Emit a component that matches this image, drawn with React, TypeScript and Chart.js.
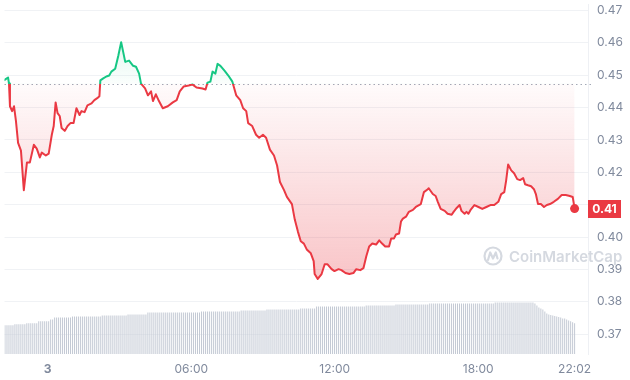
import React, { useEffect, useRef } from 'react';
import { Chart, registerables } from 'chart.js';

Chart.register(...registerables);

// ---- data (hours relative to midnight of day "3") ----
const PRICE_TIMES = [
  -1.83, -1.66, -1.62, -1.58, -1.49, -1.41, -1.33, -1.24, -1.12, -1.00,
  -0.87, -0.75, -0.58, -0.46, -0.33, -0.25, -0.08, 0.04, 0.17, 0.25,
  0.33, 0.41, 0.50, 0.58, 0.71, 0.83, 0.95, 1.08, 1.20, 1.33,
  1.41, 1.54, 1.66, 1.83, 1.95, 2.07, 2.16, 2.20, 2.32, 2.45,
  2.57, 2.66, 2.82, 2.95, 3.07, 3.24, 3.40, 3.57, 3.69, 3.82,
  3.90, 4.07, 4.19, 4.32, 4.40, 4.52, 4.65, 4.81, 5.02, 5.23,
  5.39, 5.52, 5.68, 5.89, 6.06, 6.22, 6.47, 6.60, 6.68, 6.80,
  6.89, 7.01, 7.10, 7.22, 7.39, 7.55, 7.72, 7.88, 8.05, 8.17,
  8.30, 8.38, 8.55, 8.71, 8.84, 9.00, 9.13, 9.29, 9.46, 9.59,
  9.71, 9.88, 10.00, 10.21, 10.33, 10.46, 10.58, 10.71, 10.83, 11.00,
  11.12, 11.16, 11.29, 11.45, 11.58, 11.70, 11.87, 11.99, 12.16, 12.28,
  12.45, 12.61, 12.78, 12.90, 13.07, 13.20, 13.32, 13.44, 13.57, 13.73,
  13.86, 13.98, 14.11, 14.27, 14.36, 14.48, 14.56, 14.69, 14.77, 14.85,
  14.98, 15.10, 15.27, 15.39, 15.60, 15.73, 15.89, 15.93, 16.10, 16.22,
  16.31, 16.43, 16.60, 16.72, 16.89, 16.97, 17.10, 17.22, 17.30, 17.43,
  17.51, 17.59, 17.68, 17.84, 18.01, 18.17, 18.34, 18.51, 18.67, 18.84,
  18.96, 19.09, 19.17, 19.25, 19.38, 19.50, 19.63, 19.75, 19.88, 19.96,
  20.08, 20.21, 20.33, 20.41, 20.50, 20.62, 20.75, 20.87, 21.00, 21.16,
  21.33, 21.49, 21.66, 21.83, 21.95, 22.03,
];

const PRICES = [
  0.4484, 0.4493, 0.4474, 0.4404, 0.4389, 0.4404, 0.4359, 0.4291, 0.4267, 0.4145,
  0.4230, 0.4230, 0.4285, 0.4273, 0.4246, 0.4261, 0.4252, 0.4258, 0.4316, 0.4343,
  0.4416, 0.4383, 0.4374, 0.4337, 0.4328, 0.4343, 0.4352, 0.4352, 0.4398, 0.4377,
  0.4389, 0.4386, 0.4407, 0.4413, 0.4423, 0.4429, 0.4435, 0.4484, 0.4490, 0.4496,
  0.4499, 0.4511, 0.4520, 0.4560, 0.4602, 0.4541, 0.4545, 0.4529, 0.4526, 0.4505,
  0.4474, 0.4459, 0.4438, 0.4450, 0.4420, 0.4441, 0.4420, 0.4398, 0.4404, 0.4416,
  0.4423, 0.4450, 0.4465, 0.4468, 0.4471, 0.4462, 0.4459, 0.4456, 0.4477, 0.4480,
  0.4511, 0.4505, 0.4535, 0.4529, 0.4514, 0.4499, 0.4480, 0.4438, 0.4423, 0.4398,
  0.4389, 0.4352, 0.4343, 0.4316, 0.4307, 0.4316, 0.4307, 0.4270, 0.4252, 0.4221,
  0.4170, 0.4145, 0.4124, 0.4102, 0.4054, 0.4017, 0.3987, 0.3980, 0.3962, 0.3950,
  0.3926, 0.3886, 0.3871, 0.3886, 0.3916, 0.3916, 0.3901, 0.3895, 0.3901, 0.3898,
  0.3889, 0.3886, 0.3889, 0.3901, 0.3898, 0.3904, 0.3941, 0.3971, 0.3980, 0.3977,
  0.3990, 0.3980, 0.3971, 0.3971, 0.3996, 0.3996, 0.4008, 0.4011, 0.4048, 0.4057,
  0.4063, 0.4078, 0.4084, 0.4093, 0.4102, 0.4139, 0.4148, 0.4151, 0.4133, 0.4127,
  0.4109, 0.4087, 0.4081, 0.4072, 0.4069, 0.4078, 0.4090, 0.4099, 0.4081, 0.4072,
  0.4078, 0.4072, 0.4084, 0.4099, 0.4093, 0.4087, 0.4093, 0.4099, 0.4099, 0.4109,
  0.4133, 0.4139, 0.4176, 0.4224, 0.4206, 0.4197, 0.4179, 0.4176, 0.4182, 0.4163,
  0.4160, 0.4157, 0.4148, 0.4133, 0.4102, 0.4102, 0.4093, 0.4099, 0.4102, 0.4109,
  0.4118, 0.4130, 0.4130, 0.4127, 0.4124, 0.4088,
];

// 24h volume (millions), one bar per ~5 minutes, ending at the last price time
const VOLUMES = [
  11.5, 11.5, 11.5, 11.5, 11.5, 11.5,
  11.9, 11.9, 11.9, 11.9, 11.9, 11.9,
  12.3, 12.3, 12.3, 12.3, 12.3, 12.3,
  13.1, 13.1, 13.1, 13.1, 13.1, 13.1,
  13.8, 13.8,
  14.6, 14.6, 14.6, 14.6, 14.6, 14.6, 14.6, 14.6, 14.6,
  15.0, 15.0, 15.0, 15.0, 15.0, 15.0, 15.0, 15.0, 15.0, 15.0, 15.0, 15.0, 15.0, 15.0, 15.0,
  15.4, 15.4, 15.4, 15.4, 15.4, 15.4, 15.4, 15.4, 15.4, 15.4, 15.4, 15.4, 15.4,
  15.8, 15.8, 15.8, 15.8, 15.8, 15.8, 15.8, 15.8, 15.8, 15.8,
  16.6, 16.6, 16.6, 16.6, 16.6, 16.6, 16.6, 16.6, 16.6, 16.6,
  16.6, 16.6, 16.6, 16.6, 16.6, 16.6, 16.6, 16.6, 16.6, 16.6,
  16.6, 16.6, 16.6, 16.6, 16.6, 16.6, 16.6,
  17.0, 17.0, 17.0, 17.0, 17.0, 17.0, 17.0, 17.0, 17.0, 17.0,
  17.0, 17.0, 17.0, 17.0, 17.0, 17.0, 17.0, 17.0, 17.0, 17.0,
  17.4, 17.4, 17.4, 17.4, 17.4, 17.4, 17.4, 17.4, 17.4, 17.4, 17.4, 17.4, 17.4,
  17.8, 17.8, 17.8, 17.8, 17.8, 17.8, 17.8, 17.8, 17.8, 17.8,
  17.8, 17.8, 17.8, 17.8, 17.8, 17.8, 17.8,
  18.2, 18.2, 18.2, 18.2, 18.2, 18.2, 18.2, 18.2,
  19.0, 19.0, 19.0, 19.0, 19.0, 19.0, 19.0, 19.0, 19.0, 19.0,
  19.0, 19.0, 19.0, 19.0, 19.0, 19.0, 19.0, 19.0, 19.0, 19.0,
  19.0, 19.0, 19.0, 19.0, 19.0,
  19.4, 19.4, 19.4, 19.4, 19.4, 19.4, 19.4, 19.4, 19.4, 19.4, 19.4, 19.4, 19.4, 19.4, 19.4,
  19.8, 19.8, 19.8, 19.8, 19.8, 19.8, 19.8, 19.8, 19.8, 19.8,
  19.8, 19.8, 19.8, 19.8, 19.8, 19.8, 19.8,
  20.2, 20.2, 20.2, 20.2, 20.2, 20.2, 20.2, 20.2, 20.2, 20.2,
  20.2, 20.2, 20.2, 20.2, 20.2, 20.2, 20.2, 20.2, 20.2, 20.2,
  20.2, 20.2, 20.2, 20.2, 20.2, 20.2, 20.2, 20.2, 20.2, 20.2,
  20.2, 20.2, 20.2,
  20.6, 20.6, 20.6, 20.6, 20.6, 20.6, 20.6, 20.6, 20.6, 20.6,
  20.6, 20.6, 20.6, 20.6, 20.6, 20.6, 20.6, 20.6, 20.6, 20.6,
  20.2, 19.4, 18.6, 18.2, 17.8, 17.0, 16.2, 15.8, 15.6, 15.4,
  15.2, 15.0, 14.8, 14.6, 14.2, 14.2, 13.8, 13.4, 13.1, 12.7, 12.3,
];

const OPEN_PRICE = 0.4474;
const Y_TICKS = [0.37, 0.38, 0.39, 0.40, 0.41, 0.42, 0.43, 0.44, 0.45, 0.46, 0.47];
const X_TICK_HOURS = [0, 6, 12, 18, 22.03];
const X_TICK_LABELS = ['3', '06:00', '12:00', '18:00', '22:02'];

const RED = '#ea3943';
const GREEN = '#16c784';
const FONT = 'Inter, "Noto Sans", sans-serif';

// layout constants of the time axis (pixels per hour, plot width)
const PX_PER_HOUR = 24.1;
const PLOT_WIDTH = 588;
const LAST_TIME = PRICE_TIMES[PRICE_TIMES.length - 1];
const X_MIN = LAST_TIME - 574.5 / PX_PER_HOUR;
const X_MAX = X_MIN + PLOT_WIDTH / PX_PER_HOUR;

const VOLUME_STEP = 2 / PX_PER_HOUR; // ~4.98 minutes between volume bars
const volumeTime = (i: number) => LAST_TIME - (VOLUMES.length - 1 - i) * VOLUME_STEP;

const lineStroke = (c: any) => {
  const chart = c.chart;
  const area = chart.chartArea;
  if (!area) return RED;
  const y = chart.scales.y.getPixelForValue(OPEN_PRICE);
  const t = Math.min(1, Math.max(0, (y - area.top) / (area.bottom - area.top)));
  const g = chart.ctx.createLinearGradient(0, area.top, 0, area.bottom);
  g.addColorStop(0, GREEN);
  g.addColorStop(t, GREEN);
  g.addColorStop(t, RED);
  g.addColorStop(1, RED);
  return g;
};

const areaFill = (c: any) => {
  const chart = c.chart;
  const area = chart.chartArea;
  if (!area) return 'rgba(234,57,67,0.1)';
  const y = chart.scales.y.getPixelForValue(OPEN_PRICE);
  const t = Math.min(1, Math.max(0, (y - area.top) / (area.bottom - area.top)));
  const g = chart.ctx.createLinearGradient(0, area.top, 0, area.bottom);
  g.addColorStop(0, 'rgba(22,199,132,0.20)');
  g.addColorStop(t, 'rgba(22,199,132,0.02)');
  g.addColorStop(t, 'rgba(234,57,67,0.02)');
  g.addColorStop(1, 'rgba(234,57,67,0.40)');
  return g;
};

const baselinePlugin = {
  id: 'baseline',
  beforeDatasetsDraw(chart: any) {
    const { ctx, chartArea, scales } = chart;
    const y = Math.round(scales.y.getPixelForValue(OPEN_PRICE)) + 0.5;
    ctx.save();
    ctx.strokeStyle = '#a3a9b6';
    ctx.lineWidth = 1;
    ctx.setLineDash([1.5, 3]);
    ctx.beginPath();
    ctx.moveTo(chartArea.left, y);
    ctx.lineTo(chartArea.right + 4, y);
    ctx.stroke();
    ctx.restore();
  },
};

const watermarkPlugin = {
  id: 'watermark',
  beforeDatasetsDraw(chart: any) {
    const { ctx, chartArea } = chart;
    const cx = chartArea.right - 95;
    const cy = 256;
    ctx.save();
    ctx.strokeStyle = '#d5d9e0';
    ctx.lineWidth = 2.2;
    ctx.lineJoin = 'round';
    ctx.lineCap = 'round';
    ctx.beginPath();
    ctx.arc(cx, cy, 8.5, 0, Math.PI * 2);
    ctx.stroke();
    ctx.beginPath();
    ctx.moveTo(cx - 5, cy + 4);
    ctx.lineTo(cx - 2.8, cy - 3.5);
    ctx.lineTo(cx, cy + 2.5);
    ctx.lineTo(cx + 2.8, cy - 3.5);
    ctx.lineTo(cx + 4.5, cy + 2.5);
    ctx.stroke();
    ctx.fillStyle = '#d5d9e0';
    ctx.font = '600 15px ' + FONT;
    ctx.textBaseline = 'middle';
    ctx.textAlign = 'left';
    ctx.fillText('CoinMarketCap', cx + 16, cy + 1);
    ctx.restore();
  },
};

const badgePlugin = {
  id: 'priceBadge',
  afterDraw(chart: any) {
    const { ctx, chartArea, scales } = chart;
    const last = PRICES[PRICES.length - 1];
    const y = scales.y.getPixelForValue(last);
    const x0 = chartArea.right;
    const w = 33;
    const h = 18;
    ctx.save();
    ctx.fillStyle = RED;
    ctx.fillRect(x0, Math.round(y - h / 2), w, h);
    ctx.fillStyle = '#ffffff';
    ctx.font = 'bold 12px ' + FONT;
    ctx.textAlign = 'center';
    ctx.textBaseline = 'middle';
    ctx.fillText(last.toFixed(2), x0 + w / 2, Math.round(y) + 0.5);
    ctx.restore();
  },
};

export default function App() {
  const canvasRef = useRef<HTMLCanvasElement | null>(null);

  useEffect(() => {
    const canvas = canvasRef.current;
    if (!canvas) return;
    const lastRounded = Number(PRICES[PRICES.length - 1].toFixed(2));
    const chart = new Chart(canvas, {
      type: 'line',
      data: {
        datasets: [
          {
            type: 'line',
            data: PRICE_TIMES.map((t, i) => ({ x: t, y: PRICES[i] })),
            yAxisID: 'y',
            order: 1,
            borderWidth: 2,
            borderColor: lineStroke as any,
            backgroundColor: areaFill as any,
            fill: { value: OPEN_PRICE } as any,
            tension: 0,
            borderJoinStyle: 'round',
            pointRadius: ((c: any) => (c.dataIndex === PRICES.length - 1 ? 4.5 : 0)) as any,
            pointHoverRadius: 0,
            pointBackgroundColor: RED,
            pointBorderColor: RED,
            pointBorderWidth: 0,
          } as any,
          {
            type: 'bar',
            data: VOLUMES.map((v, i) => ({ x: volumeTime(i), y: v })),
            yAxisID: 'yv',
            order: 2,
            backgroundColor: '#c3c9d4',
            borderWidth: 0,
            barThickness: 1,
            inflateAmount: 0,
          } as any,
        ],
      },
      options: {
        responsive: false,
        animation: false,
        events: [],
        layout: { padding: 0 },
        plugins: { legend: { display: false }, tooltip: { enabled: false } },
        scales: {
          x: {
            type: 'linear',
            min: X_MIN,
            max: X_MAX,
            offset: false,
            grid: { display: false, drawTicks: false },
            border: { display: false },
            ticks: {
              autoSkip: false,
              maxRotation: 0,
              padding: 8,
              color: '#808a9d',
              font: ((c: any) => ({
                family: FONT,
                size: 12,
                weight: c.tick && c.tick.value === 0 ? 'bold' : 'normal',
              })) as any,
              callback: (_v: any, i: number) => X_TICK_LABELS[i],
            },
            afterBuildTicks: (s: any) => {
              s.ticks = X_TICK_HOURS.map((v) => ({ value: v }));
            },
            afterFit: (s: any) => {
              s.height = 26;
              s.paddingLeft = 0;
              s.paddingRight = 0;
            },
          } as any,
          y: {
            position: 'right',
            min: 0.37 - 20 / 3280,
            max: 0.47 + 6 / 3280,
            grid: { color: '#f0f2f5', drawTicks: false },
            border: { display: true, color: '#eef0f4' },
            ticks: {
              padding: 9,
              color: ((c: any) =>
                c.tick && Math.abs(c.tick.value - lastRounded) < 1e-6 ? 'rgba(0,0,0,0)' : '#808a9d') as any,
              font: { family: FONT, size: 12 },
              callback: (v: any) => Number(v).toFixed(2),
            },
            afterBuildTicks: (s: any) => {
              s.ticks = Y_TICKS.map((v) => ({ value: v }));
            },
            afterFit: (s: any) => {
              s.width = 42;
              s.paddingTop = 0;
              s.paddingBottom = 0;
            },
          } as any,
          yv: { display: false, min: 0, max: 140 },
        },
      },
      plugins: [baselinePlugin, watermarkPlugin, badgePlugin],
    } as any);
    return () => chart.destroy();
  }, []);

  return (
    <div style={{ position: 'fixed', left: 0, top: 0, width: 630, height: 380, background: '#fff' }}>
      <canvas ref={canvasRef} width={630} height={380} style={{ display: 'block' }} />
    </div>
  );
}
